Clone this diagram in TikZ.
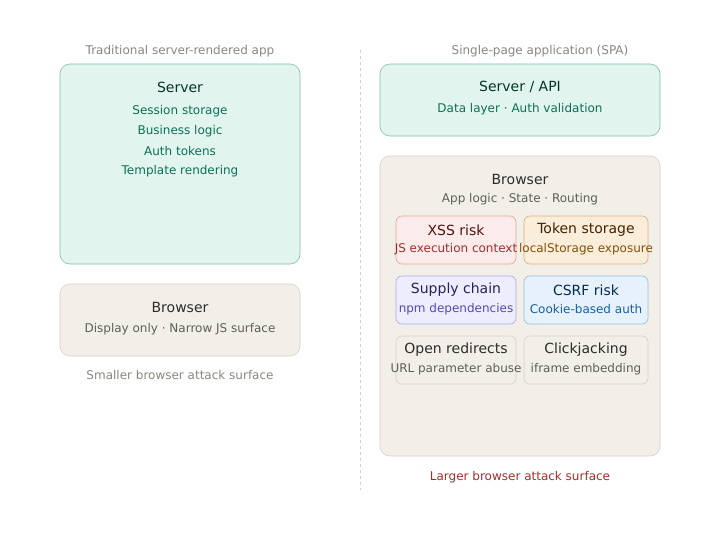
\documentclass[tikz,border=0pt]{standalone}
\usepackage{fontspec}
\setmainfont{DejaVu Sans}
\definecolor{mintfill}{HTML}{E1F5EE}
\definecolor{mintdraw}{HTML}{7DBFA5}
\definecolor{minttext}{HTML}{0F6E56}
\definecolor{minttitle}{HTML}{04342C}
\definecolor{grayfill}{HTML}{F1EFE8}
\definecolor{graydraw}{HTML}{D3D1C7}
\definecolor{graytitle}{HTML}{2C2C2A}
\definecolor{graytext}{HTML}{5F5E5A}
\definecolor{labeltext}{HTML}{888780}
\definecolor{redfill}{HTML}{FCEBEB}
\definecolor{reddraw}{HTML}{E0A898}
\definecolor{redtitle}{HTML}{501313}
\definecolor{redtext}{HTML}{A32D2D}
\definecolor{ambfill}{HTML}{FAEEDA}
\definecolor{ambdraw}{HTML}{D9B07A}
\definecolor{ambtitle}{HTML}{412402}
\definecolor{ambtext}{HTML}{854F0B}
\definecolor{purfill}{HTML}{EEEDFE}
\definecolor{purdraw}{HTML}{AFA9EC}
\definecolor{purtitle}{HTML}{26215C}
\definecolor{purtext}{HTML}{534AB7}
\definecolor{bluefill}{HTML}{E6F1FB}
\definecolor{bluedraw}{HTML}{94BEE6}
\definecolor{bluetitle}{HTML}{042C53}
\definecolor{bluetext}{HTML}{185FA5}
\definecolor{largered}{HTML}{A32D2D}
\tikzset{
  box/.style={rounded corners=10pt, line width=0.6pt},
  sbox/.style={rounded corners=6pt, line width=0.6pt},
  ttl/.style={font=\fontsize{14}{16}\selectfont, anchor=center, inner sep=0pt},
  sub/.style={font=\fontsize{12}{14}\selectfont, anchor=center, inner sep=0pt, yshift=-1pt},
  stl/.style={font=\fontsize{14}{16}\selectfont, anchor=center, inner sep=0pt, yshift=-1pt},
  ssub/.style={font=\fontsize{12}{14}\selectfont, anchor=center, inner sep=0pt, yshift=-1pt},
  lbl/.style={font=\fontsize{12}{14}\selectfont, anchor=center, inner sep=0pt, yshift=-1pt},
}
\begin{document}
\begin{tikzpicture}[x=1pt,y=-1pt]
\useasboundingbox (0,0) rectangle (720,544);
\fill[white] (0,0) rectangle (720,544);
% divider
\draw[graydraw, dashed, line width=0.6pt] (360,50) -- (360,490);
% Left side
\node[lbl, text=labeltext] (lt) at (180,50) {Traditional server-rendered app};
\draw[box, fill=mintfill, draw=mintdraw] (60,64) rectangle (300,264);
\node[ttl, text=minttitle] (s1) at (180,87) {Server};
\node[sub, text=minttext] (s1a) at (180,110) {Session storage};
\node[sub, text=minttext] (s1b) at (180,130) {Business logic};
\node[sub, text=minttext] (s1c) at (180,150) {Auth tokens};
\node[sub, text=minttext] (s1d) at (180,170) {Template rendering};
\draw[box, fill=grayfill, draw=graydraw] (60,284) rectangle (300,356);
\node[ttl, text=graytitle] (b1) at (180,307) {Browser};
\node[sub, text=graytext] (b1a) at (180,328) {Display only · Narrow JS surface};
\node[lbl, text=labeltext] (lb) at (180,374) {Smaller browser attack surface};
% Right side
\node[lbl, text=labeltext] (rt) at (540,50) {Single-page application (SPA)};
\draw[box, fill=mintfill, draw=mintdraw] (380,64) rectangle (660,136);
\node[ttl, text=minttitle] (s2) at (520,87) {Server / API};
\node[sub, text=minttext] (s2a) at (520,108) {Data layer · Auth validation};
\draw[box, fill=grayfill, draw=graydraw] (380,156) rectangle (660,456);
\node[ttl, text=graytitle] (b2) at (520,179) {Browser};
\node[sub, text=graytext] (b2a) at (520,198) {App logic · State · Routing};
% inner boxes
\draw[sbox, fill=redfill, draw=reddraw] (396,216) rectangle (516,264);
\node[stl, text=redtitle] (x1) at (456,229) {XSS risk};
\node[ssub, text=redtext] (x2) at (456,248) {JS execution context};
\draw[sbox, fill=ambfill, draw=ambdraw] (524,216) rectangle (648,264);
\node[stl, text=ambtitle] (t1) at (586,229) {Token storage};
\node[ssub, text=ambtext] (t2) at (586,248) {localStorage exposure};
\draw[sbox, fill=purfill, draw=purdraw] (396,276) rectangle (516,324);
\node[stl, text=purtitle] (p1) at (456,289) {Supply chain};
\node[ssub, text=purtext] (p2) at (456,308) {npm dependencies};
\draw[sbox, fill=bluefill, draw=bluedraw] (524,276) rectangle (648,324);
\node[stl, text=bluetitle] (c1) at (586,289) {CSRF risk};
\node[ssub, text=bluetext] (c2) at (586,308) {Cookie-based auth};
\draw[sbox, fill=grayfill, draw=graydraw] (396,336) rectangle (516,384);
\node[stl, text=graytitle] (o1) at (456,349) {Open redirects};
\node[ssub, text=graytext] (o2) at (456,368) {URL parameter abuse};
\draw[sbox, fill=grayfill, draw=graydraw] (524,336) rectangle (648,384);
\node[stl, text=graytitle] (k1) at (586,349) {Clickjacking};
\node[ssub, text=graytext] (k2) at (586,368) {iframe embedding};
\node[lbl, text=largered] (lr) at (520,476) {Larger browser attack surface};
\end{tikzpicture}
\end{document}
